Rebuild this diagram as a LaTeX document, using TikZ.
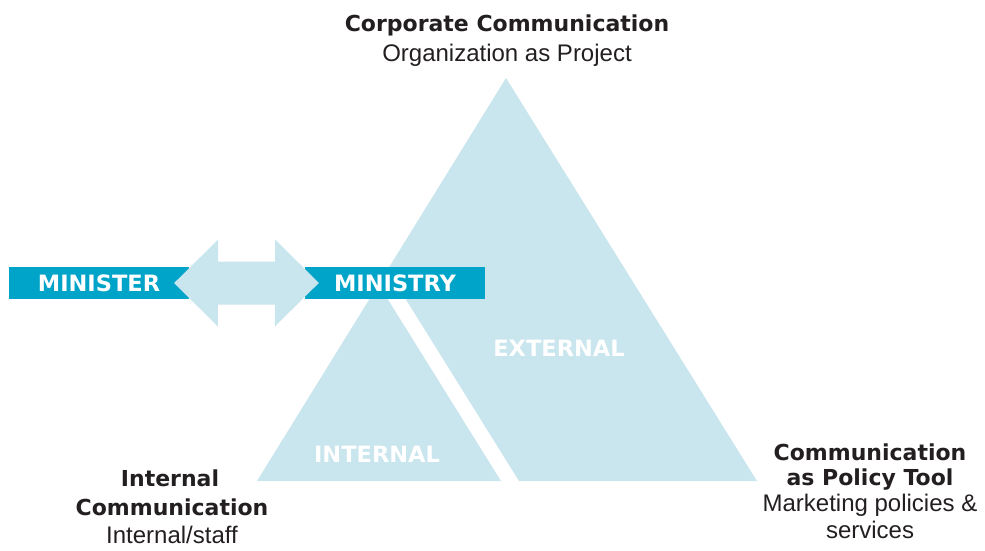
\documentclass[tikz,border=0pt]{standalone}
\usepackage{fontspec}
\setmainfont{Liberation Sans}
\newfontfamily\heavyfont{DejaVu Sans}
\usepackage{xcolor}
\definecolor{PaleBlue}{RGB}{201,229,237}
\definecolor{BoxBlue}{RGB}{0,164,200}
\definecolor{InkBlack}{RGB}{35,31,32}
\usetikzlibrary{calc}
\tikzset{
  heading/.style={font=\heavyfont\bfseries\fontsize{22}{26}\selectfont, text=InkBlack, anchor=base, inner sep=0pt},
  subline/.style={font=\fontsize{24}{28}\selectfont, text=InkBlack, anchor=base, inner sep=0pt},
  inlabel/.style={font=\heavyfont\bfseries\fontsize{22.5}{26}\selectfont, text=white, anchor=base, inner sep=0pt},
  namebox/.style={fill=BoxBlue, minimum width=180pt, minimum height=32.6pt, inner sep=0pt,
    font=\heavyfont\bfseries\fontsize{22.5}{26}\selectfont, text=white}
}

\begin{document}
\begin{tikzpicture}[x=1pt, y=-1pt]
\useasboundingbox (0, 0) rectangle (985, 550);

% the triangle, cut by a white stripe
\coordinate (L) at (257, 481);
\coordinate (R) at (757, 481);
\coordinate (T) at (506, 78);
\coordinate (S1) at (501, 481);
\coordinate (S2) at (519, 481);
\coordinate (S1up) at ($(S1)+(T)-(R)$);
\coordinate (S2up) at ($(S2)+(T)-(R)$);
\coordinate (SI) at (intersection of L--T and S1--S1up);
\coordinate (SE) at (intersection of L--T and S2--S2up);
\fill[PaleBlue] (L) -- (S1) -- (SI) -- cycle;
\fill[PaleBlue] (S2) -- (R) -- (T) -- (SE) -- cycle;

% minister and ministry
\node[namebox] (minister) at (99, 283) {MINISTER};
\node[namebox] (ministry) at (395, 283) {MINISTRY};

% double arrow between them
\coordinate (AL) at ($(minister.east)+(-15, 0)$);
\coordinate (AR) at ($(ministry.west)+(14, 0)$);
\fill[PaleBlue] (AL) -- ++(44, -43.5) -- ++(0, 22) -- ++(57, 0) -- ++(0, -22)
  -- (AR) -- ++(-44, 43.5) -- ++(0, -22) -- ++(-57, 0) -- ++(0, 22) -- cycle;

% labels inside
\node[inlabel] (external) at (559, 356) {EXTERNAL};
\node[inlabel] (internal) at (377, 462.7) {INTERNAL};

% corner labels
\node[heading] (corp) at (507, 31.5) {Corporate Communication};
\node[subline] (corpsub) at (507, 61.7) {Organization as Project};

\node[heading] (policy1) at (870, 460) {Communication};
\node[heading] (policy2) at (870, 485) {as Policy Tool};
\node[subline] (policysub1) at (870, 511.7) {Marketing policies \&};
\node[subline] (policysub2) at (870, 538) {services};

\node[heading] (intcom1) at (170, 486.7) {Internal};
\node[heading] (intcom2) at (172, 515) {Communication};
\node[subline] (intcomsub) at (172, 543) {Internal/staff};
\end{tikzpicture}
\end{document}
